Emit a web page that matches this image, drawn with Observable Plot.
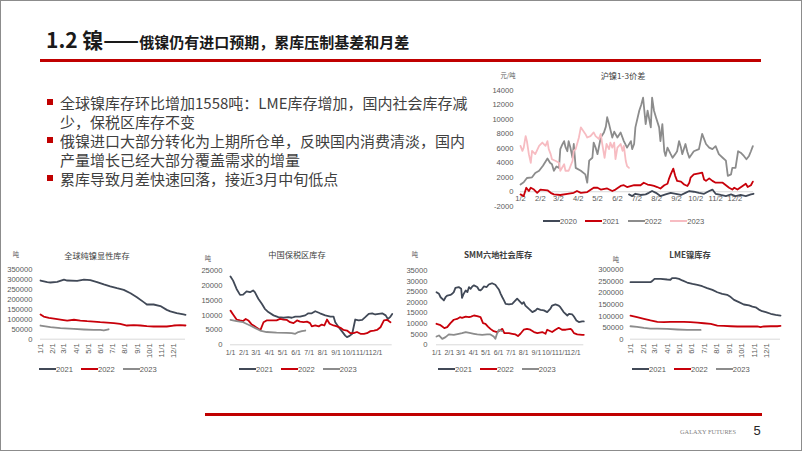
<!DOCTYPE html>
<html>
<head>
<meta charset="utf-8">
<script src="https://cdn.jsdelivr.net/npm/d3@7"></script>
<script src="https://cdn.jsdelivr.net/npm/@observablehq/plot@0.6"></script>
<style>
  html, body { margin: 0; padding: 0; background: #fff; }
  #slide { position: relative; width: 802px; height: 451px; overflow: hidden; background: #fff;
           font-family: 'Noto Sans CJK SC', 'Noto Sans', sans-serif; }
  .abs { position: absolute; }
  .ctr { position: absolute; transform: translate(-50%, -50%); white-space: nowrap; }
  .legend { position: absolute; display: flex; align-items: center; font-family: 'Liberation Sans', Arial, sans-serif; color: #595959; white-space: nowrap; }
  .legend .item { display: flex; align-items: center; }
  .legend .sw { display: inline-block; height: 2px; }
</style>
</head>
<body>
<div id="slide"></div>
<script>
// ---------------- data ----------------
// 沪镍1-3价差 (元/吨), x = day of year
const hu2020 = [[171,-370],[176,-600],[181,-280],[189,-450],[197,-370],[202,-150],[207,100],[213,-150],[220,-600],[228,-370],[236,-150],[244,-280],[252,-450],[259,-150],[265,100],[272,0],[280,-150],[288,-280],[296,100],[301,300],[306,-280],[314,-450],[322,-600],[330,-370],[337,-600],[345,-450],[353,-600],[361,-370],[365,-280]];
const hu2021 = [[2,-370],[7,-600],[11,550],[15,100],[18,550],[23,300],[28,-150],[33,300],[44,200],[49,-150],[54,-370],[64,-450],[75,-300],[85,-150],[90,100],[96,-150],[106,-50],[116,550],[122,550],[127,300],[137,450],[145,100],[150,300],[158,800],[163,900],[168,650],[179,900],[189,900],[194,1250],[200,1000],[205,900],[210,800],[215,650],[220,450],[226,900],[231,1100],[233,1700],[236,2400],[240,3200],[243,2200],[246,1500],[252,1400],[257,1000],[262,800],[265,1250],[267,1950],[272,2400],[280,2550],[285,2650],[288,1700],[291,1500],[296,1850],[301,1500],[306,1250],[311,1250],[317,1250],[322,900],[327,550],[332,300],[335,550],[340,300],[348,800],[353,1100],[356,650],[361,900],[364,1400]];
const hu2022 = [[2,1000],[7,1300],[12,1900],[20,2000],[25,2600],[31,2900],[37,3600],[44,4600],[48,4000],[51,3800],[54,2900],[58,3500],[62,3300],[64,5900],[67,6500],[70,7000],[72,6200],[75,5600],[77,7000],[80,6000],[83,4700],[85,6600],[88,3300],[96,2900],[103,2400],[106,1250],[109,4300],[114,4700],[116,6800],[119,6100],[122,5200],[127,7500],[132,8200],[135,9000],[137,10300],[140,9350],[145,7500],[148,8300],[153,7500],[158,8200],[163,7000],[168,6100],[174,7000],[176,5900],[179,6600],[181,8900],[187,11200],[190,12000],[193,13000],[197,9350],[200,11200],[202,10300],[205,8900],[207,13000],[210,11200],[213,10300],[218,8900],[220,7000],[223,9350],[226,5600],[228,4950],[231,6100],[236,5200],[239,4700],[243,5200],[246,5600],[249,7000],[252,6100],[254,5200],[259,6600],[262,5500],[265,4700],[272,5600],[280,5900],[285,8000],[291,6600],[296,6100],[301,5900],[306,6300],[311,5200],[317,4700],[322,4300],[325,2200],[330,2400],[332,3300],[337,3300],[341,5600],[345,5400],[350,4950],[354,4500],[358,4950],[361,5600],[364,6300]];
const hu2023 = [[2,6350],[5,5650],[7,6100],[10,7700],[12,7000],[15,5200],[18,4000],[20,5650],[25,5200],[31,6350],[36,6800],[41,6350],[44,7000],[46,5900],[49,5200],[51,4500],[57,4250],[62,4000],[64,2900],[70,3800],[72,2900],[77,2900],[83,4250],[85,5650],[88,5900],[93,7500],[96,8900],[98,8650],[103,8000],[106,7500],[111,7700],[116,8200],[119,7700],[124,7300],[127,8000],[129,6800],[133,4700],[136,6600],[140,5900],[142,6800],[145,6100],[148,6800],[150,4500],[153,6100],[158,6600],[161,5650],[163,6350],[166,4250],[168,3550],[171,3300]];
const huYTicks = [-2000,0,2000,4000,6000,8000,10000,12000,14000];
const huXTicks = [2,33,61,92,122,153,183,214,245,275,306,336];
const huXLabels = ["1/2","2/2","3/2","4/2","5/2","6/2","7/2","8/2","9/2","10/2","11/2","12/2"];

// 全球纯镍显性库存 (吨)
const glb2021 = [[1,296000],[18,288000],[26,286000],[43,289000],[60,300000],[68,296000],[93,294000],[110,300000],[126,298000],[143,288000],[160,276000],[176,266000],[193,257000],[210,249000],[227,232000],[243,212000],[260,187000],[268,175000],[285,175000],[302,167000],[318,148000],[327,140000],[343,131000],[360,125000],[365,123000]];
const glb2022 = [[1,125000],[9,114000],[22,108000],[39,103000],[55,98000],[68,94000],[85,98000],[101,94000],[118,91000],[135,89000],[151,86000],[168,84000],[185,81000],[201,77000],[218,69000],[235,71000],[252,69000],[268,66000],[285,64000],[302,64000],[318,64000],[335,69000],[352,71000],[365,69000]];
const glb2023 = [[1,69000],[26,61000],[51,56000],[85,52000],[110,49000],[135,47000],[151,47000],[160,44000],[172,50000]];

// 中国保税区库存 (吨)
const bond2021 = [[1,23000],[7,21600],[15,18800],[23,16800],[30,16900],[38,18000],[46,17700],[53,18300],[57,17700],[65,15500],[73,13800],[80,12100],[88,11000],[100,9900],[111,9300],[123,9100],[134,9300],[142,9100],[150,9500],[161,9500],[173,9900],[180,10600],[188,10600],[196,11300],[207,10600],[219,9900],[231,9500],[238,9500],[242,7600],[250,5900],[257,4600],[265,3100],[269,2600],[275,3000],[281,3700],[288,8500],[296,8200],[304,8400],[311,9300],[319,10400],[327,10600],[334,10200],[342,10400],[350,10600],[358,9900],[363,8700],[368,9300],[373,10400]];
const bond2022 = [[1,11500],[7,10200],[15,8500],[23,8200],[30,8000],[36,8700],[42,8200],[50,6800],[57,6200],[65,5400],[70,5000],[77,7600],[84,8200],[96,8200],[107,8200],[115,8700],[123,8500],[130,8400],[138,7600],[146,7300],[154,8200],[161,7800],[169,7600],[177,7800],[184,7300],[188,6200],[196,6500],[204,6200],[211,6800],[217,6500],[223,8500],[229,7100],[238,6500],[246,6200],[254,5700],[261,5000],[269,4800],[277,3900],[284,3900],[292,4300],[300,3700],[308,3700],[315,3900],[323,4600],[331,4800],[338,5000],[346,5900],[354,8200],[361,8400],[369,7600]];
const bond2023 = [[1,8400],[15,8000],[30,7600],[46,6500],[57,5700],[69,4800],[84,4300],[107,4100],[130,4000],[142,3900],[150,3700],[157,4300],[165,4600],[173,4800]];

// SMM六地社会库存 (吨)
const smm2021 = [[1,24800],[7,24000],[11,22400],[19,20900],[23,22400],[27,23200],[35,23500],[39,24000],[43,24800],[47,26800],[55,27200],[61,26400],[63,22100],[67,24000],[72,25600],[76,24800],[80,27200],[84,26400],[88,27500],[92,28000],[100,27200],[104,25900],[108,25600],[112,26400],[116,27500],[123,27200],[128,28400],[132,28700],[136,29000],[144,28300],[148,27200],[153,25900],[157,24000],[161,22400],[165,20900],[169,19300],[177,19000],[185,19300],[193,20900],[197,21700],[201,20900],[205,20100],[209,19300],[213,20100],[217,18500],[225,17000],[234,15400],[242,16200],[246,17000],[254,16500],[262,16200],[270,15400],[278,17000],[282,18500],[290,19000],[298,18500],[302,17700],[310,15400],[319,13800],[323,14600],[331,14300],[335,13300],[341,11500],[347,10700],[355,11000],[359,11000]];
const smm2022 = [[1,9900],[9,9400],[15,8600],[20,7850],[27,8300],[35,10200],[43,11800],[51,12200],[58,13000],[63,12700],[72,13300],[80,13000],[85,13300],[92,13800],[100,13500],[108,13000],[114,10200],[120,9900],[126,8600],[132,7500],[140,6400],[148,6000],[155,6750],[161,7500],[166,5500],[177,5500],[185,5200],[193,4900],[199,4100],[205,5200],[213,7100],[221,7500],[229,7100],[238,6000],[246,5500],[258,6000],[266,5200],[270,7100],[278,6400],[282,6000],[290,7100],[298,8000],[306,7100],[315,7100],[327,7500],[331,6750],[335,5500],[343,4900],[355,4700],[359,4700]];
const smm2023 = [[1,3900],[7,4400],[15,2800],[23,3600],[31,4900],[43,4700],[55,5200],[63,5500],[72,6000],[84,5500],[92,5200],[100,4900],[112,4700],[124,4900],[132,4900],[140,3900],[144,2800],[148,5200],[153,7100],[157,6750],[161,6400]];

// LME镍库存 (吨)
const lme2021 = [[1,246600],[26,246600],[50,246600],[54,251000],[60,261000],[75,261000],[91,258000],[99,257000],[103,264000],[112,264000],[120,261000],[128,254000],[140,245000],[153,239000],[165,235000],[177,229000],[189,221000],[202,213000],[214,203000],[226,196000],[238,192000],[247,182000],[255,170000],[267,160000],[279,150000],[292,146000],[300,141000],[308,138000],[316,128000],[324,121000],[333,117000],[345,110000],[357,105000],[369,102000]];
const lme2022 = [[1,102000],[17,95000],[34,88000],[50,81000],[67,75000],[83,73500],[99,75000],[116,75000],[132,75000],[148,73500],[165,72000],[181,69000],[198,66000],[214,59000],[230,57700],[247,56000],[263,55000],[279,55000],[296,55000],[312,55000],[320,52000],[328,55000],[345,56000],[361,56000],[369,57700]];
const lme2023 = [[1,56000],[17,53000],[34,49000],[50,46000],[67,46000],[91,45000],[116,42000],[140,40000],[157,40000],[173,40000]];

const monthTicks = [1,32,60,91,121,152,182,213,244,274,305,335];
const monthLabels = ["1/1","2/1","3/1","4/1","5/1","6/1","7/1","8/1","9/1","10/1","11/1","12/1"];
const glbYTicks = [0,50000,100000,150000,200000,250000,300000,350000];
const bondYTicks = [0,5000,10000,15000,20000,25000];
const smmYTicks = [0,5000,10000,15000,20000,25000,30000,35000];
const lmeYTicks = [0,50000,100000,150000,200000,250000,300000];

const yearsHu = ["2020","2021","2022","2023"];
const yearsInv = ["2021","2022","2023"];

const bullets = [
  ["全球镍库存环比增加1558吨：LME库存增加，国内社会库存减", "少，保税区库存不变"],
  ["俄镍进口大部分转化为上期所仓单，反映国内消费清淡，国内", "产量增长已经大部分覆盖需求的增量"],
  ["累库导致月差快速回落，接近3月中旬低点"]
];

// ---------------- styling ----------------
const DARK = "#414957", RED = "#C8000A", GRAY = "#8C8C8C", PINK = "#F7BCC2";
const LATIN = "'Liberation Sans', Arial, sans-serif";
const CJK = "'Noto Sans CJK SC', 'Noto Sans', sans-serif";

const slide = document.getElementById("slide");
function el(tag, cls, css, html) {
  const e = document.createElement(tag);
  if (cls) e.className = cls;
  Object.assign(e.style, css || {});
  if (html != null) e.innerHTML = html;
  slide.appendChild(e);
  return e;
}

// frame
el("div", "abs", {left: "0", top: "0", width: "802px", height: "451px", boxSizing: "border-box", border: "1px solid #8c8c8c", pointerEvents: "none", zIndex: 5});

// title
el("div", "abs", {left: "46px", top: "26px", whiteSpace: "nowrap", fontWeight: "700", color: "#1a1a1a", lineHeight: "26px"},
  '<span style="font-size:21px">1.2 镍——</span><span style="font-size:15px">俄镍仍有进口预期，累库压制基差和月差</span>');
el("div", "abs", {left: "40px", top: "59px", width: "721px", height: "3px", background: "#C00000"});

// bullets
let lineIdx = 0;
bullets.forEach(b => {
  const yc = 102 + lineIdx * 19;
  el("div", "abs", {left: "47px", top: (yc - 3) + "px", width: "6px", height: "6px", background: "#C00000"});
  el("div", "abs", {left: "60px", top: (yc - 9.5) + "px", fontSize: "15px", lineHeight: "19px", color: "#404040", whiteSpace: "nowrap"},
     b.join("<br>"));
  lineIdx += b.length;
});

// footer
el("div", "abs", {left: "205px", top: "413px", width: "557px", height: "3px", background: "#C00000"});
el("div", "ctr", {left: "708px", top: "431px", fontFamily: "'Liberation Serif', serif", fontSize: "6.3px", color: "#7f7f7f"}, "GALAXY FUTURES");
el("div", "ctr", {left: "757px", top: "430px", fontFamily: LATIN, fontSize: "13px", color: "#262626"}, "5");

// ---------------- charts ----------------
function makeChart(cfg) {
  const labelMap = new Map(cfg.xTicks.map((t, i) => [t, cfg.xLabels[i]]));
  const marks = [
    Plot.axisY({ticks: cfg.yTicks, tickSize: 0, tickPadding: cfg.yPad, tickFormat: d => String(d), label: null}),
    Plot.ruleY([0], {stroke: "#d9d9d9", strokeWidth: 1})
  ];
  if (cfg.zeroAxis) {
    marks.push(Plot.text(cfg.xTicks, {x: d => d, y: d => 0, text: d => labelMap.get(d), dy: cfg.labelDy, fill: "#595959"}));
  } else {
    marks.push(Plot.axisX({ticks: cfg.xTicks, tickFormat: d => labelMap.get(d), tickSize: 0,
      tickPadding: cfg.xPad, tickRotate: cfg.rotate || 0, label: null, fontSize: cfg.xFont}));
  }
  cfg.series.forEach(s => marks.push(Plot.line(s.data, {x: d => d[0], y: d => d[1], stroke: s.color, strokeWidth: cfg.sw || 1.8})));
  const svg = Plot.plot({
    width: cfg.width, height: cfg.height,
    marginTop: cfg.mt, marginRight: cfg.mr, marginBottom: cfg.mb, marginLeft: cfg.ml,
    x: cfg.zeroAxis ? {domain: cfg.xDomain, axis: null} : {domain: cfg.xDomain},
    y: {domain: cfg.yDomain},
    style: {fontFamily: LATIN, fontSize: "7.6px", color: "#595959", background: "transparent", overflow: "visible"},
    marks
  });
  const holder = el("div", "abs", {left: cfg.left + "px", top: cfg.top + "px", width: cfg.width + "px", height: cfg.height + "px"});
  holder.appendChild(svg);
  // chart title and unit
  el("div", "ctr", {left: cfg.titleX + "px", top: cfg.titleY + "px", fontFamily: CJK, fontSize: "8.2px", color: "#404040", fontWeight: cfg.boldTitle ? "700" : "400"}, cfg.title);
  el("div", "ctr", {left: cfg.unitX + "px", top: cfg.unitY + "px", fontFamily: CJK, fontSize: "6.3px", color: "#595959"}, cfg.unit);
  // legend
  const lg = el("div", "legend", {left: cfg.legX + "px", top: (cfg.legY - 6) + "px", height: "12px", fontSize: cfg.legFont + "px", gap: cfg.legGap + "px"});
  cfg.series.forEach(s => {
    const it = document.createElement("div");
    it.className = "item";
    it.innerHTML = `<span class="sw" style="width:17px;background:${s.color}"></span><span>${s.name}</span>`;
    lg.appendChild(it);
  });
}

makeChart({
  left: 480, top: 80, width: 300, height: 132, mt: 10, mr: 27, mb: 6.3, ml: 40,
  xDomain: [2, 365], yDomain: [-2000, 14000], yTicks: huYTicks, yPad: 7,
  xTicks: huXTicks, xLabels: huXLabels, zeroAxis: true, labelDy: 6.5, sw: 1.8,
  series: [
    {name: yearsHu[0], data: hu2020, color: DARK},
    {name: yearsHu[1], data: hu2021, color: RED},
    {name: yearsHu[2], data: hu2022, color: GRAY},
    {name: yearsHu[3], data: hu2023, color: PINK}
  ],
  title: "沪镍1-3价差", titleX: 623, titleY: 75, unit: "元/吨", unitX: 508, unitY: 75,
  legX: 543, legY: 221, legFont: 7.6, legGap: 8.5
});

makeChart({
  left: 0, top: 260, width: 195, height: 100, mt: 9.3, mr: 10, mb: 21.3, ml: 40,
  xDomain: [1, 365], yDomain: [0, 350000], yTicks: glbYTicks, yPad: 8,
  xTicks: monthTicks, xLabels: monthLabels, rotate: -90, xPad: 4,
  series: [
    {name: yearsInv[0], data: glb2021, color: DARK},
    {name: yearsInv[1], data: glb2022, color: RED},
    {name: yearsInv[2], data: glb2023, color: GRAY}
  ],
  title: "全球纯镍显性库存", titleX: 97, titleY: 255, unit: "吨", unitX: 16, unitY: 254,
  legX: 39, legY: 369, legFont: 7.6, legGap: 8
});

makeChart({
  left: 200, top: 260, width: 195, height: 100, mt: 10, mr: 3.3, mb: 15.7, ml: 30,
  xDomain: [1, 373], yDomain: [0, 25000], yTicks: bondYTicks, yPad: 8,
  xTicks: monthTicks, xLabels: monthLabels, xPad: 5, xFont: "7px",
  series: [
    {name: yearsInv[0], data: bond2021, color: DARK},
    {name: yearsInv[1], data: bond2022, color: RED},
    {name: yearsInv[2], data: bond2023, color: GRAY}
  ],
  title: "中国保税区库存", titleX: 297, titleY: 254, unit: "吨", unitX: 208, unitY: 258,
  legX: 239, legY: 369, legFont: 7.6, legGap: 8
});

makeChart({
  left: 400, top: 260, width: 195, height: 100, mt: 10, mr: 11.7, mb: 15.7, ml: 36,
  xDomain: [1, 359], yDomain: [0, 35000], yTicks: smmYTicks, yPad: 9,
  xTicks: monthTicks, xLabels: monthLabels, xPad: 5, xFont: "7px",
  series: [
    {name: yearsInv[0], data: smm2021, color: DARK},
    {name: yearsInv[1], data: smm2022, color: RED},
    {name: yearsInv[2], data: smm2023, color: GRAY}
  ],
  title: "SMM六地社会库存", titleX: 498, titleY: 254, boldTitle: true, unit: "吨", unitX: 415, unitY: 254,
  legX: 438, legY: 369, legFont: 7.6, legGap: 8
});

makeChart({
  left: 590, top: 260, width: 195, height: 100, mt: 9.3, mr: 5, mb: 21.3, ml: 40,
  xDomain: [1, 369], yDomain: [0, 300000], yTicks: lmeYTicks, yPad: 7,
  xTicks: monthTicks, xLabels: monthLabels, rotate: -90, xPad: 4,
  series: [
    {name: yearsInv[0], data: lme2021, color: DARK},
    {name: yearsInv[1], data: lme2022, color: RED},
    {name: yearsInv[2], data: lme2023, color: GRAY}
  ],
  title: "LME镍库存", titleX: 690, titleY: 254, boldTitle: true, unit: "吨", unitX: 616, unitY: 259,
  legX: 632, legY: 369, legFont: 7.6, legGap: 8
});
</script>
</body>
</html>
